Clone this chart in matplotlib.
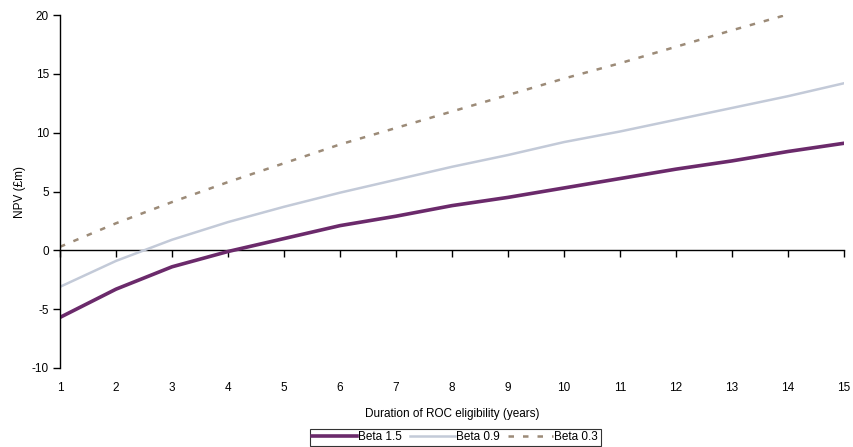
import matplotlib.pyplot as plt

plt.rcParams['font.family'] = ['Liberation Sans', 'DejaVu Sans']
plt.rcParams['axes.unicode_minus'] = False

years = [1, 2, 3, 4, 5, 6, 7, 8, 9, 10, 11, 12, 13, 14, 15]
beta_15 = [-5.7, -3.3, -1.4, -0.1, 1.0, 2.1, 2.9, 3.8, 4.5, 5.3, 6.1, 6.9, 7.6, 8.4, 9.1]
beta_09 = [-3.1, -0.9, 0.9, 2.4, 3.7, 4.9, 6.0, 7.1, 8.1, 9.2, 10.1, 11.1, 12.1, 13.1, 14.2]
beta_03 = [0.3, 2.3, 4.1, 5.8, 7.4, 9.0, 10.4, 11.8, 13.2, 14.6, 15.9, 17.3, 18.7, 20.05, 21.4]

fig = plt.figure(figsize=(8.54, 4.47), dpi=100)
ax = fig.add_axes([60 / 854, 1 - 368 / 447, 784 / 854, 353 / 447])

ax.plot(years, beta_15, color='#6b2a6b', lw=2.6, label='Beta 1.5')
ax.plot(years, beta_09, color='#c3cad8', lw=1.8, label='Beta 0.9')
ax.plot(years, beta_03, color='#9c8b78', lw=1.8, ls=(0, (2.2, 3.6)), label='Beta 0.3')

ax.set_xlim(1, 15)
ax.set_ylim(-10, 20)
ax.set_xticks(years)
ax.set_yticks([-10, -5, 0, 5, 10, 15, 20])

for s in ['top', 'right', 'bottom']:
    ax.spines[s].set_visible(False)
ax.spines['left'].set_linewidth(1)
ax.tick_params(axis='y', length=5, width=1, labelsize=8.5, pad=3)
ax.tick_params(axis='x', length=0, labelsize=8.5, pad=10)

# zero line with tick marks
sec = ax.secondary_xaxis(0, transform=ax.transData)
sec.set_xticks(years)
sec.set_xticklabels([])
sec.tick_params(length=5, width=1)
sec.spines['bottom'].set_linewidth(1)

ax.set_xlabel('Duration of ROC eligibility (years)', fontsize=8.5, labelpad=10)
ax.set_ylabel('NPV (£m)', fontsize=8.5, labelpad=4)

leg = fig.legend(loc='lower center', bbox_to_anchor=(0.533, 0.0), ncol=3, fontsize=8.5,
                 frameon=True, fancybox=False, edgecolor='black', handlelength=3.8,
                 handletextpad=0.1, columnspacing=0.7, borderpad=0.2, borderaxespad=0.1)
leg.get_frame().set_linewidth(0.8)

fig.savefig('out.png', dpi=100)
